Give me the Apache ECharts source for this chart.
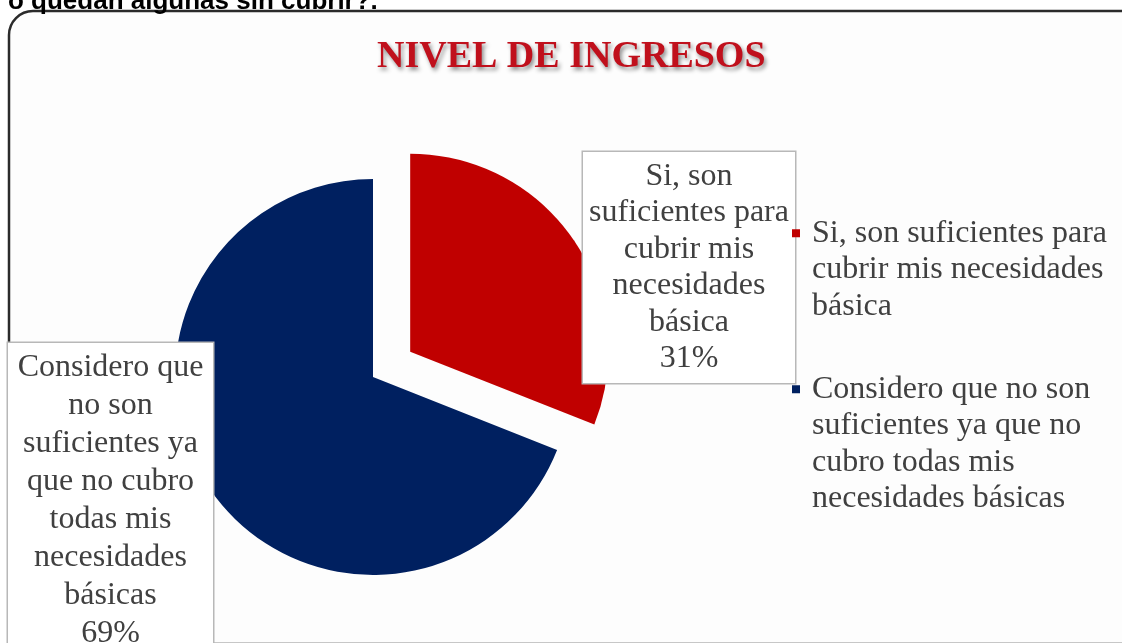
<!DOCTYPE html>
<html lang="es">
<head>
    <meta charset="utf-8">
    <title>Nivel de ingresos</title>
    <script src="https://cdn.jsdelivr.net/npm/echarts@6/dist/echarts.min.js"></script>
    <style>
        html, body {margin: 0; padding: 0; background: #fff;}
        #main {width: 1122px; height: 643px;}
    </style>
</head>
<body>
<div id="main"></div>
<script type="text/javascript">
    // datos
    var categories = [
        'Si, son suficientes para cubrir mis necesidades básica',
        'Considero que no son suficientes ya que no cubro todas mis necesidades básicas'
    ];
    var values = [31, 69];
    var labelLines = [
        'Si, son\nsuficientes para\ncubrir mis\nnecesidades\nbásica',
        'Considero que\nno son\nsuficientes ya\nque no cubro\ntodas mis\nnecesidades\nbásicas'
    ];
    var legendLines = [
        'Si, son suficientes para\ncubrir mis necesidades\nbásica',
        'Considero que no son\nsuficientes ya que no\ncubro todas mis\nnecesidades básicas'
    ];
    var colors = ['#C00000', '#002060'];

    var serif = '"Liberation Serif", "Times New Roman", serif';
    var textColor = '#404040';

    // posiciones de las etiquetas
    var labelPos = [
        {x: 689, y: 267.5},
        {x: 110.5, y: 501}
    ];
    var center = [373, 377];
    var explode = 45; // separación del sector "Si"

    var myChart = echarts.init(document.getElementById('main'));

    // centro desplazado para el sector separado (ángulo medio del primer sector)
    var total = values[0] + values[1];
    var midAngle = values[0] / total * Math.PI; // desde las 12, sentido horario
    var explodedCenter = [
        center[0] + explode * Math.sin(midAngle),
        center[1] - explode * Math.cos(midAngle)
    ];

    // una serie por sector visible; el otro queda transparente
    function buildData(visibleIdx) {
        return categories.map(function (name, i) {
            var on = i === visibleIdx;
            return {
                name: name,
                value: values[i],
                itemStyle: {color: colors[i], opacity: on ? 1 : 0},
                label: i === 0
                    ? {show: on, lineHeight: 36.5, width: 200, padding: [6, 6]}
                    : {show: on, lineHeight: 38, width: 187, padding: [6, 9]},
                labelLine: {show: on && i === 0}
            };
        });
    }

    function buildSeries(visibleIdx, c) {
        return {
            type: 'pie',
            center: c,
            radius: 198,
            startAngle: 90,
            clockwise: true,
            silent: true,
            emphasis: {disabled: true},
            label: {
                position: 'outside',
                fontFamily: serif,
                fontSize: 32,
                color: textColor,
                align: 'center',
                overflow: 'none',
                backgroundColor: '#fff',
                borderColor: '#b8b8b8',
                borderWidth: 1.5,
                formatter: function (p) {
                    return labelLines[p.dataIndex] + '\n' + Math.round(p.percent) + '%';
                }
            },
            labelLine: {
                length: 6,
                length2: 6,
                lineStyle: {color: '#a6a6a6', width: 1}
            },
            labelLayout: function (params) {
                var pos = labelPos[params.dataIndex];
                return {
                    x: pos.x,
                    y: pos.y,
                    align: 'center',
                    verticalAlign: 'middle'
                };
            },
            data: buildData(visibleIdx)
        };
    }

    // icono del legend: cuadrado arriba, punto invisible para fijar el tamaño
    function legendIcon(h) {
        return 'path://M0,0h8v8h-8z M14.9,' + (h - 0.1) + 'h0.1v0.1h-0.1z';
    }

    function makeLegend(i, top, lines) {
        var h = (lines - 1) * 36.5 + 8;
        return {
            data: [{name: categories[i], icon: legendIcon(h), itemStyle: {color: colors[i], opacity: 1}}],
            orient: 'vertical',
            left: 792,
            top: top,
            padding: 0,
            itemWidth: 15,
            itemHeight: h,
            selectedMode: false,
            formatter: function () { return legendLines[i]; },
            textStyle: {
                fontFamily: serif,
                fontSize: 32,
                lineHeight: 36.5,
                color: textColor
            }
        };
    }

    var option = {
        animation: false,
        backgroundColor: '#fff',
        title: [
            {
                text: 'NIVEL DE INGRESOS',
                left: 377,
                top: 38,
                padding: 0,
                textStyle: {
                    fontFamily: serif,
                    fontWeight: 'bold',
                    fontSize: 38,
                    color: '#C0101C',
                    textShadowColor: 'rgba(0,0,0,0.45)',
                    textShadowBlur: 4,
                    textShadowOffsetX: 2,
                    textShadowOffsetY: 3
                }
            },
            {
                text: 'o quedan algunas sin cubrir?.',
                left: 8,
                top: -11,
                padding: 0,
                textStyle: {
                    fontFamily: '"Liberation Sans", Arial, sans-serif',
                    fontWeight: 'bold',
                    fontSize: 26,
                    color: '#000'
                }
            }
        ],
        legend: [
            makeLegend(0, 215, 3),
            makeLegend(1, 371, 4)
        ],
        graphic: [
            {
                type: 'rect',
                z: -10,
                shape: {x: 9, y: 11, width: 1140, height: 633, r: 24},
                style: {fill: '#fdfdfd', stroke: '#2b2b2b', lineWidth: 2.5}
            }
        ],
        series: [
            buildSeries(1, center),
            buildSeries(0, explodedCenter)
        ]
    };

    myChart.setOption(option);
</script>
</body>
</html>
